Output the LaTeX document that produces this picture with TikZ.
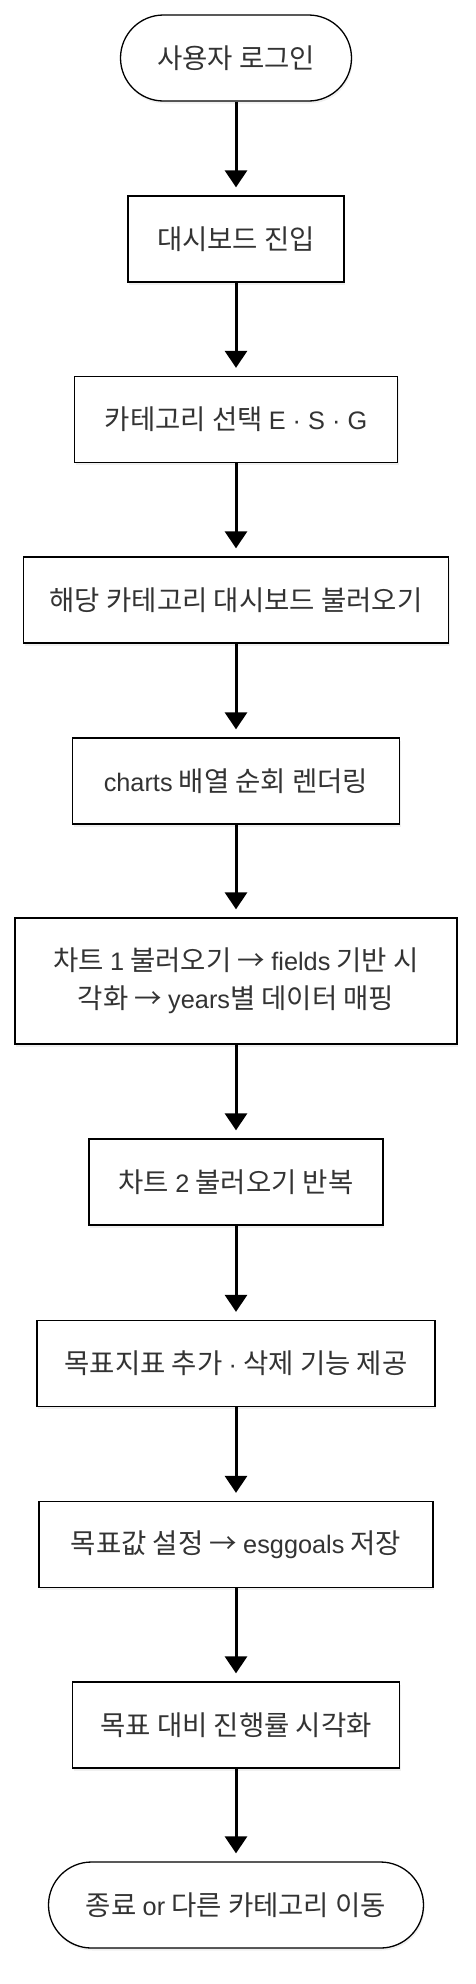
\documentclass[tikz,border=0pt]{standalone}
\usepackage{fontspec}
\setmainfont{Noto Sans CJK KR}
\newfontfamily\lat[Scale=0.92]{Liberation Sans}
\usetikzlibrary{arrows.meta,shadows}
\definecolor{txt}{HTML}{333333}
\tikzset{
  box/.style={draw=black, line width=1.3pt, fill=white, rectangle, minimum height=86pt, inner sep=0pt,
    align=center, text=txt, font=\fontsize{27.5}{38}\selectfont,
    drop shadow={opacity=0.12, shadow xshift=1pt, shadow yshift=-2.5pt}},
  term/.style={box, rounded corners=43pt},
  arr/.style={line width=3pt, -{Triangle[width=22pt,length=17pt]}},
}
\begin{document}
\begin{tikzpicture}[x=1pt,y=-1pt]
\useasboundingbox (0,0) rectangle (476,1984);
\node[term, minimum width=231pt] (n1) at (236,58) {사용자 로그인};
\node[box, minimum width=216pt] (n2) at (236,239) {대시보드 진입};
\node[box, minimum width=323pt] (n3) at (236,419.5) {카테고리 선택 {\lat E · S · G}};
\node[box, minimum width=425pt] (n4) at (236,600) {해당 카테고리 대시보드 불러오기};
\node[box, minimum width=327pt] (n5) at (236,781) {{\lat charts} 배열 순회 렌더링};
\node[box, minimum width=442pt, minimum height=126pt] (n6) at (236,981) {차트 {\lat 1} 불러오기 → {\lat fields} 기반 시\\각화 → {\lat years}별 데이터 매핑};
\node[box, minimum width=294pt] (n7) at (236,1182) {차트 {\lat 2} 불러오기 반복};
\node[box, minimum width=398pt] (n8) at (236,1363.5) {목표지표 추가 {\lat ·} 삭제 기능 제공};
\node[box, minimum width=394pt] (n9) at (236,1544.5) {목표값 설정 → {\lat esggoals} 저장};
\node[box, minimum width=327pt] (n10) at (236,1725) {목표 대비 진행률 시각화};
\node[term, minimum width=375pt] (n11) at (236,1905) {종료 {\lat or} 다른 카테고리 이동};
\foreach \a/\b in {n1/n2,n2/n3,n3/n4,n4/n5,n5/n6,n6/n7,n7/n8,n8/n9,n9/n10,n10/n11}
  \draw[arr] (\a.south) -- ([yshift=8pt]\b.north);
\end{tikzpicture}
\end{document}
